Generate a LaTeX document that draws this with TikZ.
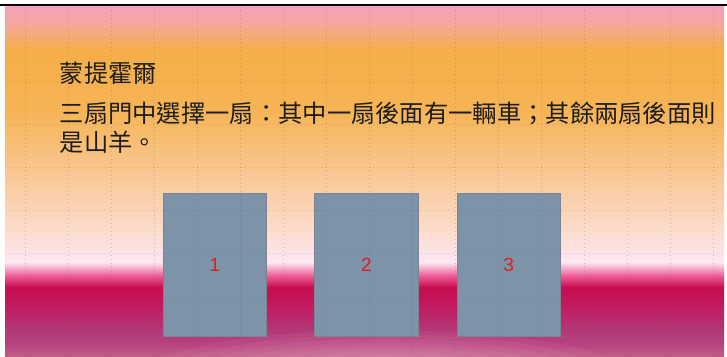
\documentclass[tikz,border=0pt]{standalone}
\usepackage{fontspec}
\newfontfamily\cjk{Noto Sans CJK TC}
\newfontfamily\numfont{Liberation Sans}
\definecolor{cA}{HTML}{F5A0C0}
\definecolor{cB}{HTML}{F5A898}
\definecolor{cC}{HTML}{F5AE48}
\definecolor{cD}{HTML}{F6B455}
\definecolor{cE}{HTML}{F9C690}
\definecolor{cF}{HTML}{FCDCCC}
\definecolor{cG}{HTML}{FDE4EC}
\definecolor{cH}{HTML}{FDE8F2}
\definecolor{cI}{HTML}{F0609A}
\definecolor{cJ}{HTML}{C80C50}
\definecolor{cK}{HTML}{C21A5E}
\definecolor{cL}{HTML}{B23878}
\definecolor{cM}{HTML}{B84480}
\definecolor{cN}{HTML}{C26088}
\definecolor{glow}{HTML}{E8A8C0}
\definecolor{doorfill}{HTML}{7D93A8}
\definecolor{doorline}{HTML}{7A8494}
\definecolor{numred}{HTML}{E41A1C}
\definecolor{textdark}{HTML}{1E1E1E}
\tikzset{
  gridline/.style={black!65, opacity=0.26, line width=0.7pt, dash pattern=on 0.9pt off 3.1pt},
  door/.style={draw=doorline, fill=doorfill, line width=0.8pt, minimum width=103.5pt,
    minimum height=143pt, inner sep=0pt, text=numred, font=\numfont\fontsize{19}{19}\selectfont},
  cjktext/.style={anchor=base west, inner sep=0pt, text=textdark, font=\cjk\fontsize{24.3}{29}\selectfont}
}
\begin{document}
\begin{tikzpicture}[x=1pt, y=-1pt]
\fill[white] (0,0) rectangle (727,356);
\useasboundingbox (0,0) rectangle (727,356);
% background bands
\foreach \ya/\yb/\ca/\cb in {5/25/cA/cB, 25/50/cB/cC, 50/110/cC/cD, 110/170/cD/cE,
  170/230/cE/cF, 230/255/cF/cG, 255/262/cG/cH, 262/275/cH/cI, 275/287/cI/cJ,
  287/305/cJ/cK, 305/330/cK/cL, 330/345/cL/cM, 345/357/cM/cN}
  \fill[top color=\ca, bottom color=\cb] (5,\ya) rectangle (724,\yb+0.6);
% bottom glow
\begin{scope}
  \clip (5,300) rectangle (724,356);
  \foreach \r in {1,...,9}
    \fill[glow, opacity=0.08] (385,372) ellipse ({25*\r+10} and {4.2*\r+4});
\end{scope}
% top line
\draw[black, line width=1.6pt] (0,5.2) -- (727,5.2);
% doors
\node[door] (door1) at (215,264.5) {1};
\node[door] (door2) at (366.5,264.5) {2};
\node[door] (door3) at (508.75,264.5) {3};
% grid
\foreach \i in {0,...,16}
  \draw[gridline] (25+43*\i,6.5) -- (25+43*\i,356);
\foreach \j in {0,...,7}
  \draw[gridline] (5,38+43*\j) -- (724,38+43*\j);
% texts
\node[cjktext] (title) at (59.5,82) {蒙提霍爾};
\node[cjktext] (body1) at (59.5,122.5) {三扇門中選擇一扇：其中一扇後面有一輛車；其餘兩扇後面則};
\node[cjktext] (body2) at (59.5,151.5) {是山羊。};
\end{tikzpicture}
\end{document}
